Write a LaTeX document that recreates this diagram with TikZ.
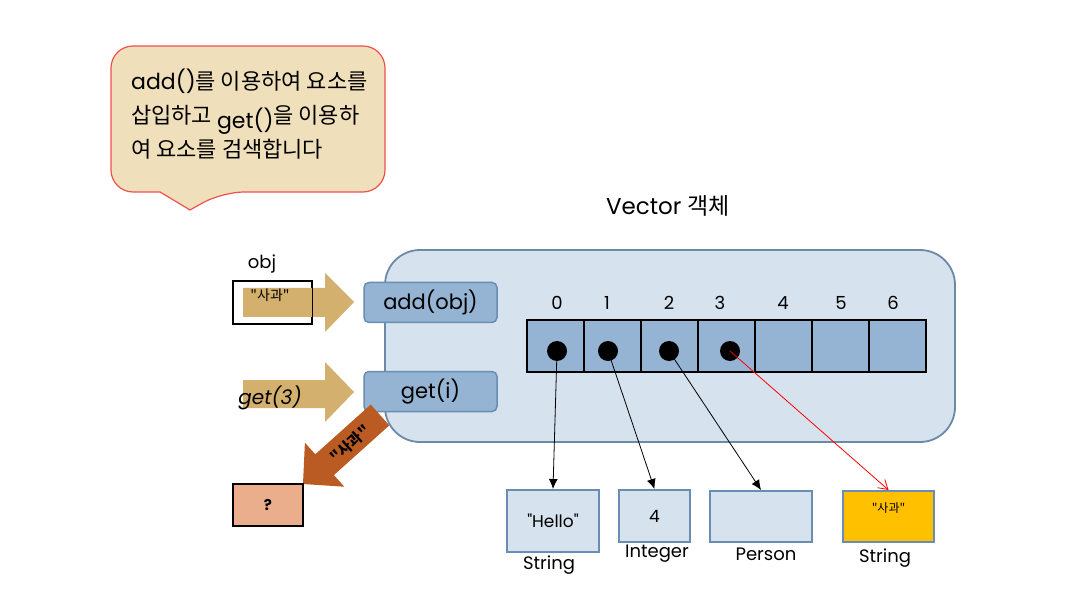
\documentclass[tikz,border=0pt]{standalone}
\usepackage{fontspec}
\setmainfont{Poppins}[Ligatures=TeXOff]
\newfontfamily\krfont{Noto Sans CJK KR}[Ligatures=TeXOff]
\newcommand{\kr}[1]{{\krfont #1}}
\usetikzlibrary{arrows.meta}
\definecolor{bubblefill}{RGB}{239,223,187}
\definecolor{bubbleline}{RGB}{240,80,80}
\definecolor{panelfill}{RGB}{214,226,238}
\definecolor{panelline}{RGB}{108,138,168}
\definecolor{methodfill}{RGB}{149,179,211}
\definecolor{methodline}{RGB}{106,141,179}
\definecolor{tanarrow}{RGB}{212,176,110}
\definecolor{brownarrow}{RGB}{185,91,34}
\definecolor{salmon}{RGB}{235,174,140}
\definecolor{gold}{RGB}{255,192,0}
\tikzset{
  methodbox/.style={draw=methodline, fill=methodfill, line width=1.5pt, rounded corners=5pt, minimum width=133pt, minimum height=40pt, font=\fontsize{21}{24}\selectfont, inner sep=0pt},
  cell/.style={fill=methodfill, minimum width=57pt, minimum height=52pt, inner sep=0pt},
  cellborder/.style={draw=black, line width=1.5pt},
  idx/.style={font=\fontsize{18}{20}\selectfont, inner sep=0pt},
  dotnode/.style={circle, fill=black, minimum size=20pt, inner sep=0pt},
  objbox/.style={draw=methodline, fill=panelfill, line width=2pt, inner sep=0pt},
  typelabel/.style={font=\fontsize{18}{20}\selectfont, inner sep=0pt},
  ptr/.style={line width=0.8pt, -{Latex[length=10pt,width=9pt]}},
  redptr/.style={line width=0.8pt, draw=red, -{Straight Barb[length=9pt,width=11pt]}},
  bubbletext/.style={anchor=base west, inner sep=0pt, font=\fontsize{22}{26}\selectfont}
}
\begin{document}
\begin{tikzpicture}[x=1pt,y=-1pt]
\useasboundingbox (0,0) rectangle (1078,593);
\fill[white] (0,0) rectangle (1078,593);

% speech bubble
\draw[fill=bubblefill, draw=bubbleline, line width=1.2pt, rounded corners=22pt]
  (111,46) -- (385,46) -- (385,192) -- (222,192) [sharp corners] -- (190,210) -- (160,192) [rounded corners=22pt] -- (111,192) -- cycle;
\node[bubbletext] (l1) at (131,90) {add()\kr{를 이용하여 요소를}};
\node[bubbletext] (l2) at (131,124) {\kr{삽입하고 }\raisebox{-5pt}{get()}\kr{을 이용하}};
\node[bubbletext] (l3) at (131,158) {\kr{여 요소를 검색합니다}};

% title
\node[font=\fontsize{23}{26}\selectfont, inner sep=0pt] (title) at (668,206) {Vector \kr{객체}};

% panel
\draw[fill=panelfill, draw=panelline, line width=1.8pt, rounded corners=35pt] (385,250) rectangle (955,442);

% obj box and tan arrows
\node[draw=black, fill=white, line width=1.2pt, minimum width=79pt, minimum height=43pt, inner sep=0pt] (objb) at (272.5,302.5) {};
\fill[tanarrow] (243,288) -- (325,288) -- (325,273) -- (354,302) -- (325,332) -- (325,317) -- (243,317) -- cycle;
\draw[black, line width=1.2pt] (objb.north west) rectangle (objb.south east);
\node[font=\fontsize{14}{16}\selectfont\krfont, inner sep=0pt] (objval) at (270,295) {"사과"};
\node[font=\fontsize{18}{20}\selectfont, inner sep=0pt] (objlbl) at (262,264) {obj};
\fill[tanarrow] (243,380) -- (325,380) -- (325,362) -- (354,392) -- (325,422) -- (325,408) -- (243,408) -- cycle;
\node[font=\fontsize{20}{22}\selectfont\itshape, inner sep=0pt] (get3) at (270,398) {get(3)};

% method boxes
\node[methodbox] (add) at (430.5,302.5) {add(obj)};
\node[methodbox] (get) at (430.5,391.5) {get(i)};

% brown return arrow
\fill[brownarrow] (389.3,425.4) -- (333.9,475.1) -- (344.3,486.7) -- (303,484) -- (304.9,442.7) -- (315.3,454.3) -- (370.7,404.6) -- cycle;
\node[rotate=42, font=\fontsize{15}{17}\selectfont\bfseries\krfont, inner sep=0pt] (ret) at (350,444) {"사과"};

% result box
\node[draw=black, fill=salmon, line width=1.2pt, minimum width=70pt, minimum height=42pt, inner sep=0pt, font=\fontsize{15}{17}\selectfont\bfseries] (q) at (268,505) {?};

% array
\foreach \i/\x in {0/555.5,1/612,2/669.5,3/726.5,4/783.5,5/840.5,6/897.5} {
  \node[cell] (c\i) at (\x,346) {};
}
\foreach \i in {0,...,6} {
  \draw[cellborder] (c\i.north west) rectangle (c\i.south east);
}
\foreach \i/\x in {0/557,1/607,2/669,3/720,4/783,5/841,6/893} {
  \node[idx] (n\i) at (\x,303) {\i};
}
\node[dotnode] (d0) at (557,351) {};
\node[dotnode] (d1) at (608,351) {};
\node[dotnode] (d2) at (669,351) {};
\node[dotnode] (d3) at (730,351) {};

% objects
\node[objbox, minimum width=92pt, minimum height=62pt, font=\fontsize{17}{19}\selectfont] (b0) at (553,521) {"Hello"};
\node[objbox, minimum width=71pt, minimum height=52pt, font=\fontsize{17}{19}\selectfont] (b1) at (654.5,516) {4};
\node[objbox, minimum width=102pt, minimum height=51pt] (b2) at (761,516.5) {};
\node[objbox, fill=gold, minimum width=91pt, minimum height=51pt] (b3) at (888.5,516.5) {};
\node[font=\fontsize{12}{14}\selectfont\krfont, inner sep=0pt] (b3t) at (888.5,508) {"사과"};

\node[typelabel] (t0) at (549,565) {String};
\node[typelabel] (t1) at (657,554) {Integer};
\node[typelabel] (t2) at (766,554) {Person};
\node[typelabel] (t3) at (885,558) {String};

% pointers
\draw[ptr] (d0.center) -- (b0.north);
\draw[ptr] (d1.center) -- (b1.north);
\draw[ptr] (d2.center) -- (b2.north);
\draw[redptr] (d3.center) -- (b3.north);
\end{tikzpicture}
\end{document}
